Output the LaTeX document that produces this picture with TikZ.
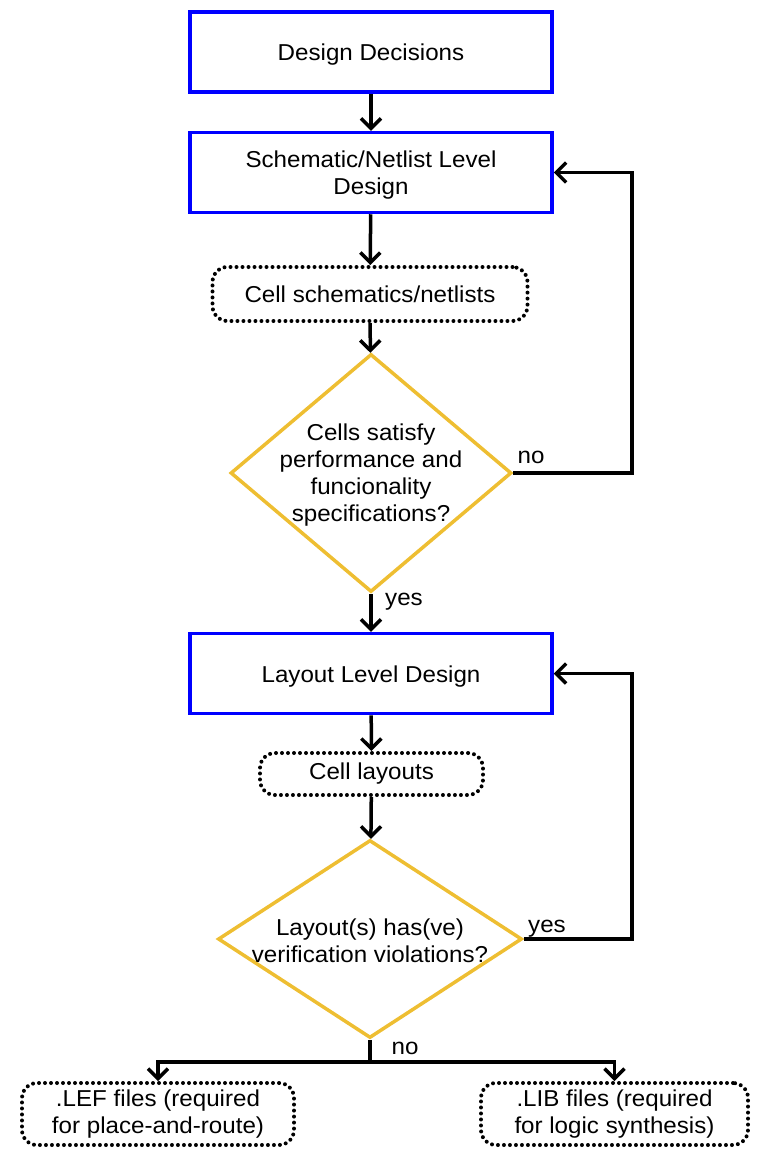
\documentclass[tikz,border=0pt]{standalone}
\usepackage{fontspec}
\setmainfont{Liberation Sans}[FakeStretch=1.05]
\usetikzlibrary{shapes.geometric,arrows.meta}
\definecolor{boxblue}{RGB}{0,0,255}
\definecolor{decyellow}{RGB}{238,190,50}
\newcommand\lowertext[1]{\raisebox{-3pt}[\height][\depth]{#1}}
\begin{document}
\begin{tikzpicture}[x=1pt,y=1pt,
  font=\fontsize{23}{27}\selectfont,
  bluebox/.style={draw=boxblue,line width=3.5pt,minimum width=362pt,minimum height=80pt,align=center,inner sep=0pt},
  dotbox/.style={draw=black,line width=4pt,dash pattern=on 0pt off 6pt,line cap=round,rounded corners=15pt,align=center,inner sep=0pt},
  decision/.style={draw=decyellow,line width=3.5pt,diamond,inner sep=0pt,aspect=1},
  conn/.style={line width=3.5pt,-{Straight Barb[length=10pt,width=20pt,line width=3.5pt]}},
  plain/.style={line width=3.5pt},
  lbl/.style={inner sep=0pt}]
\useasboundingbox (0,0) rectangle (771,-1149);

\node[bluebox] (dd) at (371,-52) {\lowertext{Design Decisions}};
\node[bluebox] (sch) at (371,-172.5) {\lowertext{\begin{tabular}{@{}c@{}}Schematic/Netlist Level\\Design\end{tabular}}};
\node[dotbox,minimum width=315pt,minimum height=54pt] (cs) at (370,-294) {Cell schematics/netlists};
\node[decision,minimum width=281pt,minimum height=238pt] (q1) at (371,-473) {};
\node[align=center,inner sep=0pt] (q1t) at (371,-475) {Cells satisfy\\performance and\\funcionality\\specifications?};
\node[bluebox] (lay) at (371,-673.5) {\lowertext{Layout Level Design}};
\node[dotbox,minimum width=223pt,minimum height=42pt] (cl) at (371.5,-774) {Cell layouts};
\node[decision,minimum width=304pt,minimum height=198pt] (q2) at (370,-939) {};
\node[align=center,inner sep=0pt] (q2t) at (370,-941) {Layout(s) has(ve)\\verification violations?};
\node[dotbox,minimum width=272pt,minimum height=62pt] (lef) at (158,-1114) {.LEF files (required\\for place-and-route)};
\node[dotbox,minimum width=267pt,minimum height=62pt] (lib) at (614.5,-1114) {.LIB files (required\\for logic synthesis)};

\coordinate (r1) at (632,-473);
\coordinate (r2) at (632,-939);
\coordinate (br) at (370,-1062);

\draw[conn] (dd) -- (sch);
\draw[conn] (sch) -- (cs);
\draw[conn] (cs) -- (q1);
\draw[conn] (q1) -- (lay);
\draw[conn] (q1.east) -- (r1) |- (sch.east);
\draw[conn] (lay) -- (cl);
\draw[conn] (cl) -- (q2);
\draw[conn] (q2.east) -- (r2) |- (lay.east);
\draw[plain] (q2.south) -- (br);
\draw[conn] (br) -| (lef.north);
\draw[conn] (br) -| (lib.north);

\node[lbl] (lno1) at (531,-457) {no};
\node[lbl] (lyes1) at (404,-602) {yes};
\node[lbl] (lyes2) at (547,-929) {yes};
\node[lbl] (lno2) at (405,-1048) {no};
\end{tikzpicture}
\end{document}
